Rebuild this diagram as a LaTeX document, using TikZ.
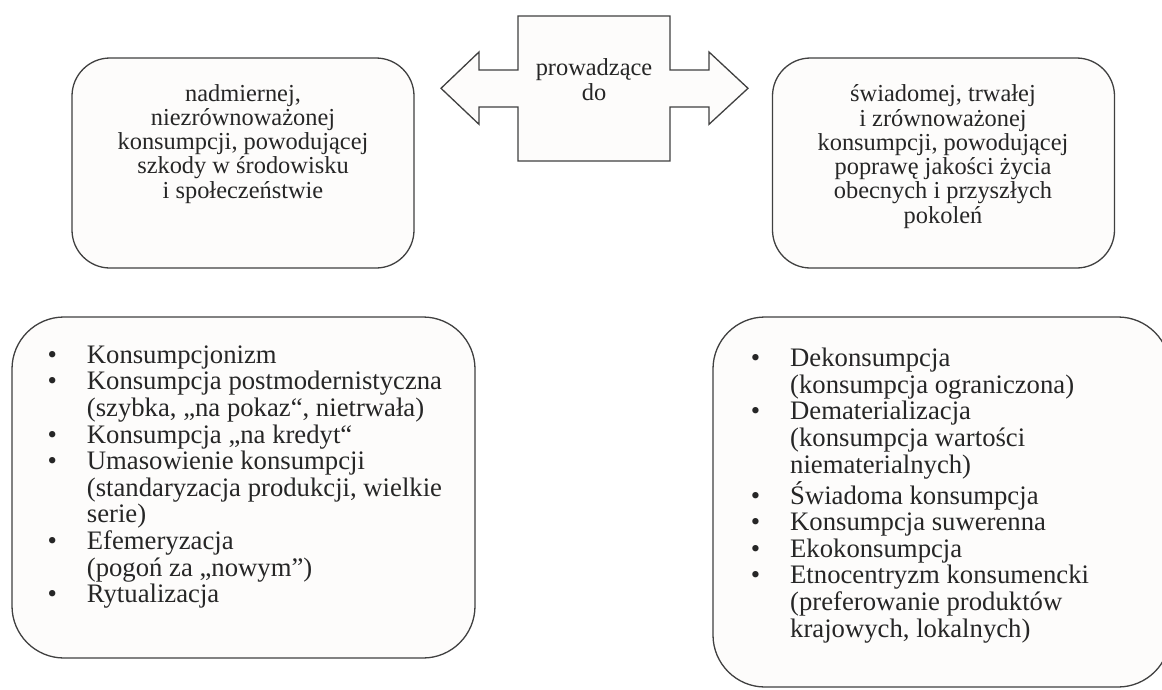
\documentclass[tikz,border=0pt]{standalone}
\usepackage{fontspec}
\setmainfont{Liberation Serif}
\usepackage{array}
\definecolor{edge}{HTML}{404040}
\definecolor{boxfill}{HTML}{FDFCFB}
\definecolor{ink}{HTML}{262626}
\begin{document}
\begin{tikzpicture}[x=1pt,y=-1pt,
  box/.style={draw=edge, fill=boxfill, line width=1.3pt, inner sep=0pt},
  topbox/.style={box, rounded corners=38pt},
  lowbox/.style={box, rounded corners=52pt},
  txt/.style={text=ink, inner sep=0pt, font=\fontsize{24.4}{24.3}\selectfont},
  listtxt/.style={text=ink, inner sep=0pt, font=\fontsize{26.7}{26.6}\selectfont, anchor=base west}]
\useasboundingbox (0,0) rectangle (1162,689);
\fill[white] (0,0) rectangle (1162,689);
\clip (0,0) rectangle (1162,689);

% top boxes
\node[topbox, minimum width=342pt, minimum height=210pt] (lt) at (243,163) {};
\node[topbox, minimum width=342pt, minimum height=210pt] (rt) at (943.5,163) {};

% double arrow callout
\draw[box, line join=miter] (518,16) -- (670,16) -- (670,70) -- (709,70) -- (709,52) -- (748,88.3)
  -- (709,124.3) -- (709,107) -- (670,107) -- (670,161) -- (518,161) -- (518,107)
  -- (479,107) -- (479,124.3) -- (441,88.3) -- (479,52) -- (479,70) -- (518,70) -- cycle;
\node[txt, anchor=base] (arr) at (594,75)
  {\fontsize{24.4}{25}\selectfont\begin{tabular}[t]{@{}c@{}}prowadzące\\ do\end{tabular}};

% top texts
\node[txt, anchor=base] (ltt) at (243,101)
  {\begin{tabular}[t]{@{}c@{}}nadmiernej,\\ niezrównoważonej\\ konsumpcji, powodującej\\ szkody w środowisku\\ i społeczeństwie\end{tabular}};
\node[txt, anchor=base] (rtt) at (943,101.7)
  {\begin{tabular}[t]{@{}c@{}}świadomej, trwałej\\ i zrównoważonej\\ konsumpcji, powodującej\\ poprawę jakości życia\\ obecnych i przyszłych\\ pokoleń\end{tabular}};

% bottom boxes
\node[lowbox, minimum width=463pt, minimum height=341pt] (lb) at (243.5,487.5) {};
\node[lowbox, minimum width=457pt, minimum height=370pt] (rb) at (941.5,502) {};

% lists
\node[listtxt] (lbt) at (47.4,363.3)
  {\begin{tabular}[t]{@{}p{39.3pt}@{}l@{}}
  \textbullet & Konsumpcjonizm\\
  \textbullet & Konsumpcja postmodernistyczna\\
   & (szybka, „na pokaz“, nietrwała)\\
  \textbullet & Konsumpcja „na kredyt“\\
  \textbullet & Umasowienie konsumpcji\\
   & (standaryzacja produkcji, wielkie\\
   & serie)\\
  \textbullet & Efemeryzacja\\
   & (pogoń za „nowym”)\\
  \textbullet & Rytualizacja
  \end{tabular}};
\node[listtxt] (rbt) at (750.7,366.7)
  {\begin{tabular}[t]{@{}p{39.3pt}@{}l@{}}
  \textbullet & Dekonsumpcja\\
   & (konsumpcja ograniczona)\\
  \textbullet & Dematerializacja\\
   & (konsumpcja wartości\\
   & niematerialnych)\\
  \textbullet & Świadoma konsumpcja\\
  \textbullet & Konsumpcja suwerenna\\
  \textbullet & Ekokonsumpcja\\
  \textbullet & Etnocentryzm konsumencki\\
   & (preferowanie produktów\\
   & krajowych, lokalnych)
  \end{tabular}};
\end{tikzpicture}
\end{document}
